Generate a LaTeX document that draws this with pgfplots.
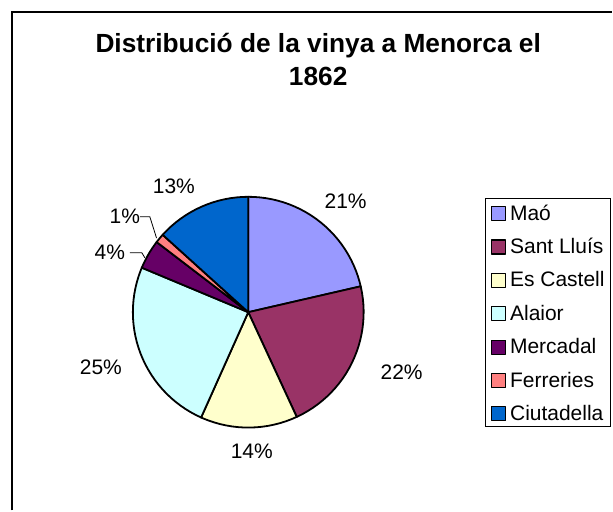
\documentclass[border=0pt]{standalone}
\usepackage{pgfplots}
\pgfplotsset{compat=1.18}
\usepackage{fontspec}
\setmainfont{Liberation Sans}
\definecolor{cMao}{HTML}{9999FF}
\definecolor{cSL}{HTML}{993366}
\definecolor{cEC}{HTML}{FFFFCC}
\definecolor{cAl}{HTML}{CCFFFF}
\definecolor{cMe}{HTML}{660066}
\definecolor{cFe}{HTML}{FF8080}
\definecolor{cCi}{HTML}{0066CC}
% shares (%): Mao 21.4, Sant Lluis 21.7, Es Castell 13.6, Alaior 24.6,
% Mercadal 4.1, Ferreries 1.3, Ciutadella 13.3  (angle = share*3.6, clockwise from 90)
\begin{document}
\begin{tikzpicture}
\begin{axis}[
  scale only axis, width=613pt, height=511pt,
  xmin=-248.5, xmax=364.5, ymin=-198.5, ymax=312.5,
  hide axis, clip=false,
  legend style={at={(axis cs:236.5,114.5)}, anchor=north west, draw=black, line width=0.8pt,
    fill=white, font=\fontsize{21}{24}\selectfont, inner xsep=6pt, inner ysep=5pt,
    nodes={inner sep=0pt, text height=17pt, text depth=1pt, anchor=west},
    row sep=15.3pt, column sep=4pt},
  legend cell align=left,
  legend image code/.code={\draw[#1,draw=black,line width=1.2pt] (0pt,-8.5pt) rectangle (14pt,5.5pt);},
  every axis plot/.append style={draw=black, line width=1.8pt, line join=round},
]
\path (axis cs:-248.5,-198.5) rectangle (axis cs:364.5,312.5);
\addplot[fill=cMao, data cs=polar] coordinates {(0,0) (90,115.5) (87,115.5) (84,115.5) (81,115.5) (78,115.5) (75,115.5) (72,115.5) (69,115.5) (66,115.5) (63,115.5) (60,115.5) (57,115.5) (54,115.5) (51,115.5) (48,115.5) (45,115.5) (42,115.5) (39,115.5) (36,115.5) (33,115.5) (30,115.5) (27,115.5) (24,115.5) (21,115.5) (18,115.5) (15,115.5) (12.96,115.5) (0,0)};
\addlegendentry{Maó}
\addplot[fill=cSL, data cs=polar] coordinates {(0,0) (12.96,115.5) (10,115.5) (7,115.5) (4,115.5) (1,115.5) (-2,115.5) (-5,115.5) (-8,115.5) (-11,115.5) (-14,115.5) (-17,115.5) (-20,115.5) (-23,115.5) (-26,115.5) (-29,115.5) (-32,115.5) (-35,115.5) (-38,115.5) (-41,115.5) (-44,115.5) (-47,115.5) (-50,115.5) (-53,115.5) (-56,115.5) (-59,115.5) (-62,115.5) (-65.16,115.5) (0,0)};
\addlegendentry{Sant Lluís}
\addplot[fill=cEC, data cs=polar] coordinates {(0,0) (-65.16,115.5) (-68,115.5) (-71,115.5) (-74,115.5) (-77,115.5) (-80,115.5) (-83,115.5) (-86,115.5) (-89,115.5) (-92,115.5) (-95,115.5) (-98,115.5) (-101,115.5) (-104,115.5) (-107,115.5) (-110,115.5) (-113,115.5) (-114.12,115.5) (0,0)};
\addlegendentry{Es Castell}
\addplot[fill=cAl, data cs=polar] coordinates {(0,0) (-114.12,115.5) (-117,115.5) (-120,115.5) (-123,115.5) (-126,115.5) (-129,115.5) (-132,115.5) (-135,115.5) (-138,115.5) (-141,115.5) (-144,115.5) (-147,115.5) (-150,115.5) (-153,115.5) (-156,115.5) (-159,115.5) (-162,115.5) (-165,115.5) (-168,115.5) (-171,115.5) (-174,115.5) (-177,115.5) (-180,115.5) (-183,115.5) (-186,115.5) (-189,115.5) (-192,115.5) (-195,115.5) (-198,115.5) (-201,115.5) (-202.68,115.5) (0,0)};
\addlegendentry{Alaior}
\addplot[fill=cMe, data cs=polar] coordinates {(0,0) (-202.68,115.5) (-205,115.5) (-208,115.5) (-211,115.5) (-214,115.5) (-217,115.5) (-217.44,115.5) (0,0)};
\addlegendentry{Mercadal}
\addplot[fill=cFe, data cs=polar] coordinates {(0,0) (-217.44,115.5) (-219,115.5) (-220.5,115.5) (-222.12,115.5) (0,0)};
\addlegendentry{Ferreries}
\addplot[fill=cCi, data cs=polar] coordinates {(0,0) (-222.12,115.5) (-225,115.5) (-228,115.5) (-231,115.5) (-234,115.5) (-237,115.5) (-240,115.5) (-243,115.5) (-246,115.5) (-249,115.5) (-252,115.5) (-255,115.5) (-258,115.5) (-261,115.5) (-264,115.5) (-267,115.5) (-270,115.5) (0,0)};
\addlegendentry{Ciutadella}
% leader lines
\addplot[forget plot, line width=0.8pt, line join=miter] coordinates {(-108.5,95.5) (-98.5,95.5) (-91.8,74.2)};
\addplot[forget plot, line width=0.8pt, line join=miter] coordinates {(-118.5,59.5) (-106.5,59.5) (-103.5,54.5)};
% frame
\draw[line width=1.2pt] (axis cs:-236.5,-198.5) -- (axis cs:-236.5,300.5) -- (axis cs:364.5,300.5);
% title
\node[anchor=base, font=\fontsize{26.3}{30}\selectfont\bfseries] at (axis cs:70,259.5) {Distribució de la vinya a Menorca el};
\node[anchor=base, font=\fontsize{26.3}{30}\selectfont\bfseries] at (axis cs:70,226.5) {1862};
% data labels
\begin{scope}[every node/.style={font=\fontsize{21}{24}\selectfont, inner sep=0pt}]
\node at (axis cs:97.5,111.5) {21\%};
\node at (axis cs:153.5,-60.5) {22\%};
\node at (axis cs:3.5,-139.5) {14\%};
\node at (axis cs:-147.5,-55.5) {25\%};
\node at (axis cs:-138.5,59.5) {4\%};
\node at (axis cs:-123.5,96.5) {1\%};
\node at (axis cs:-74.5,126.5) {13\%};
\end{scope}
\end{axis}
\end{tikzpicture}
\end{document}
